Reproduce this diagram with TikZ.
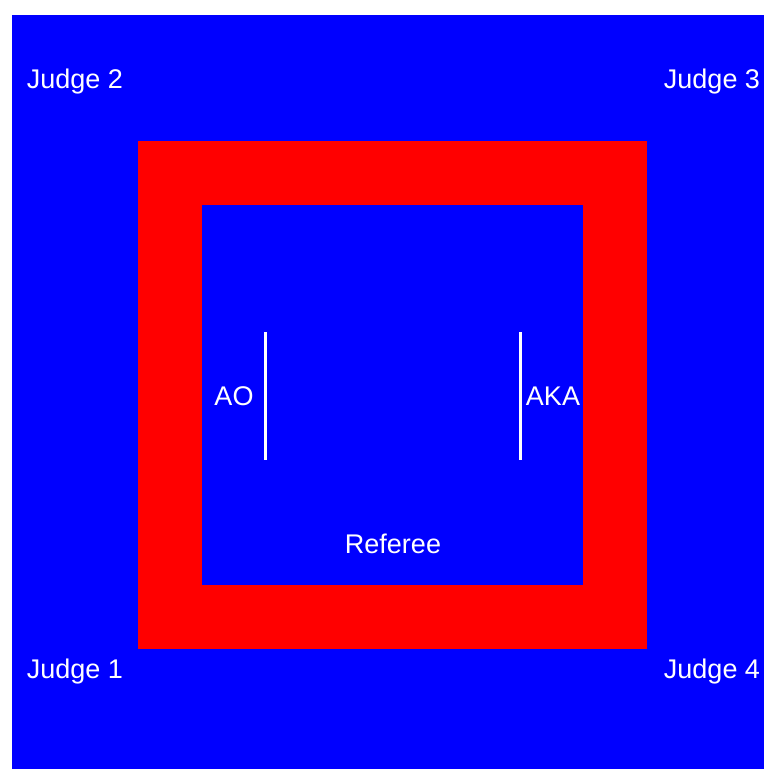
\documentclass[tikz,border=0pt]{standalone}
\usepackage{fontspec}
\setmainfont{Liberation Sans}
\usepackage{tikz}

\begin{document}
\begin{tikzpicture}[x=1pt,y=-1pt,
    label/.style={text=white, inner sep=0pt, font=\fontsize{27}{31}\selectfont}]

\useasboundingbox (0,0) rectangle (764,769);
\fill [white] (0,0) rectangle (764,769);

\coordinate (area0) at (12,15);
\coordinate (area1) at (764,769);
\coordinate (mat0) at (138,141);
\coordinate (mat1) at (647,649);
\coordinate (in0) at (202,205);
\coordinate (in1) at (583,585);

\fill [blue] (area0) rectangle (area1);
\fill [red] (mat0) rectangle (mat1);
\fill [blue] (in0) rectangle (in1);

% judges in the corners
\foreach \i/\x/\y in {1/75/672, 2/75/82, 3/712/82, 4/712/672}
    \node [label] (judge\i) at (\x,\y) {Judge \i};

% start lines
\coordinate (ao0) at (265,332);
\coordinate (ao1) at (265,460);
\coordinate (aka0) at (520,332);
\coordinate (aka1) at (520,460);

\draw [white, line width=3pt] (ao0) -- (ao1);
\draw [white, line width=3pt] (aka0) -- (aka1);

\node [label] (ao) at (234,396) {AO};
\node [label] (aka) at (553,396) {AKA};
\node [label] (referee) at (393,544) {Referee};

\end{tikzpicture}
\end{document}
